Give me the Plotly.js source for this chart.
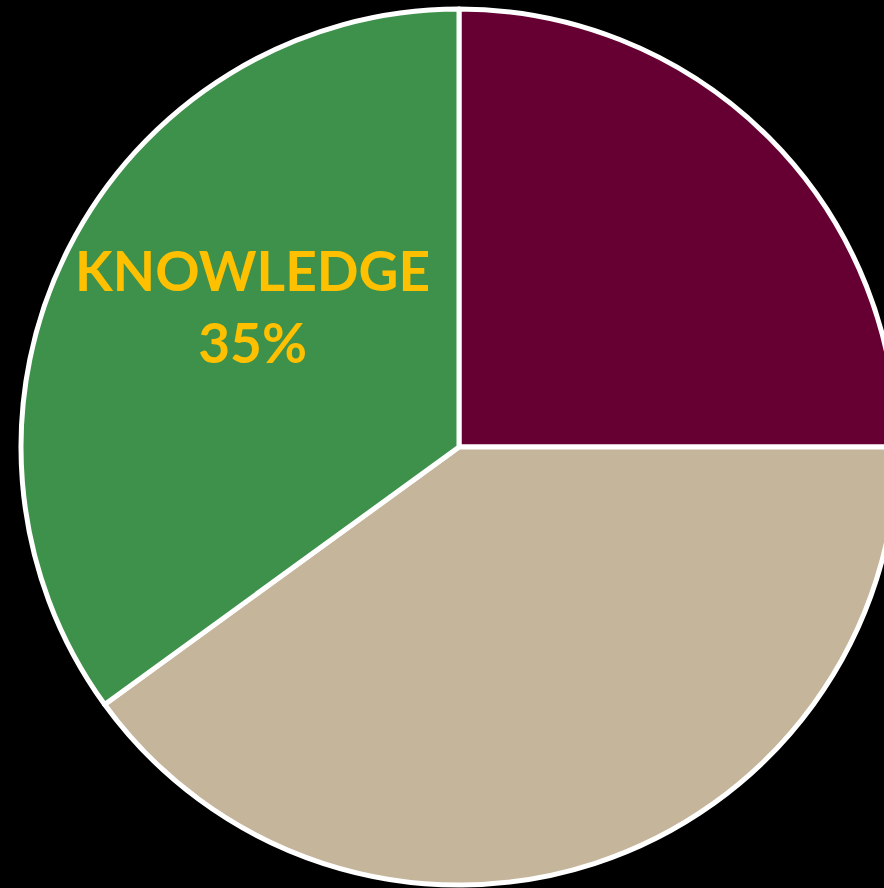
<!DOCTYPE html>
<html>
<head>
<meta charset="utf-8">
<script src="https://cdn.plot.ly/plotly-3.0.1.min.js"></script>
<style>
html,body{margin:0;padding:0;background:#000;overflow:hidden;width:884px;height:888px;}
#chart{width:918px;height:894px;}
</style>
</head>
<body>
<div id="chart"></div>
<script>
const categories = ["SKILLS", "ATTITUDE", "KNOWLEDGE"];
const values = [25, 40, 35];
const sliceColors = ["#660033", "#C4B59B", "#3E914B"];
const labelTexts = ["", "", "KNOWLEDGE<br>35%<br>\u00A0"];

const trace = {
  type: "pie",
  labels: categories,
  values: values,
  text: labelTexts,
  textinfo: "text",
  textposition: "inside",
  insidetextorientation: "horizontal",
  hoverinfo: "label+percent",
  sort: false,
  direction: "clockwise",
  rotation: 0,
  marker: { colors: sliceColors, line: { color: "#FFFFFF", width: 5 } },
  insidetextfont: { family: "Lato, 'Open Sans', sans-serif", size: 55, color: "#FFC000", weight: "bold" },
  showlegend: false
};

const layout = {
  width: 918,
  height: 894,
  margin: { l: 21, r: 21, t: 9, b: 9, pad: 0 },
  paper_bgcolor: "#000000",
  plot_bgcolor: "#000000",
  showlegend: false
};

Plotly.newPlot("chart", [trace], layout, { displayModeBar: false, staticPlot: true });
</script>
</body>
</html>
